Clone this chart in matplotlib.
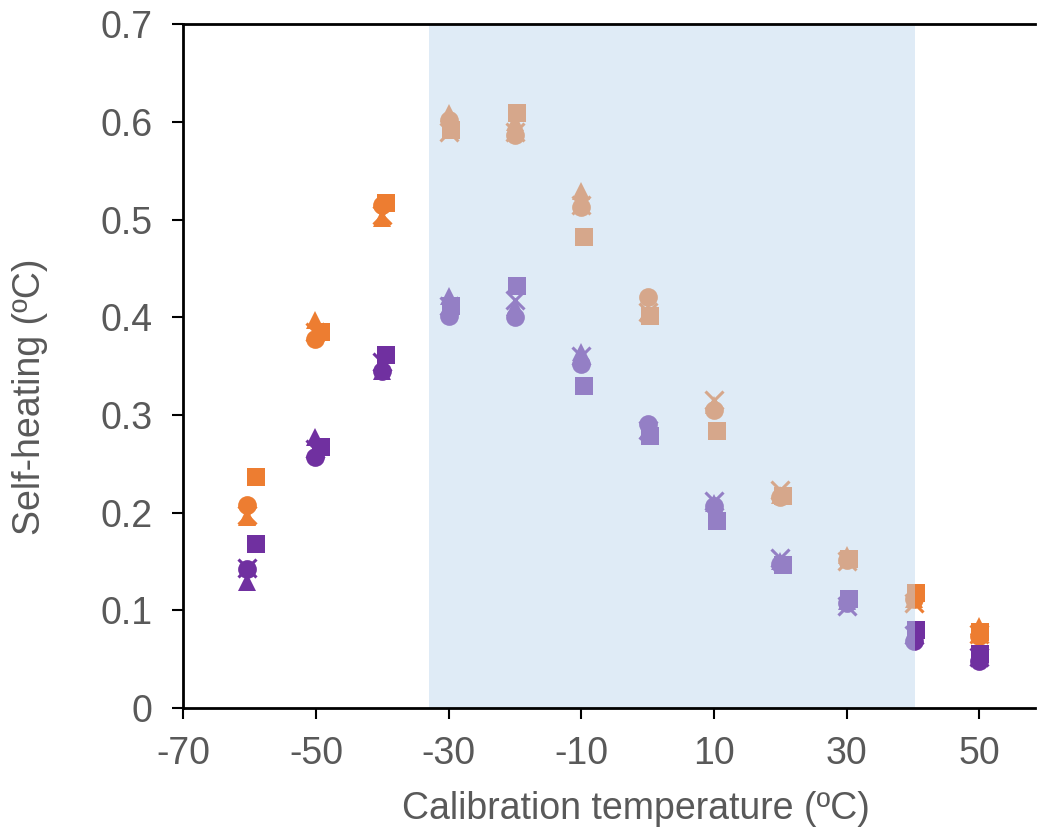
import matplotlib
matplotlib.use("Agg")
import matplotlib.pyplot as plt
from matplotlib.ticker import FuncFormatter

plt.rcParams['font.family'] = ['Liberation Sans', 'DejaVu Sans']
plt.rcParams['axes.unicode_minus'] = False

# ---- data ----
x_main = [-60.4, -50.1, -40.0, -30.0, -20.0, -10.0, 0.0, 10.0, 20.0, 30.0, 40.2, 50.0]
x_square = [-59.1, -49.3, -39.5, -29.6, -19.7, -9.6, 0.4, 10.4, 20.4, 30.4, 40.4, 50.1]

orange_circle = [0.208, 0.378, 0.515, 0.602, 0.587, 0.513, 0.421, 0.305, 0.216, 0.152, 0.112, 0.074]
orange_triangle = [0.196, 0.397, 0.502, 0.609, 0.600, 0.529, 0.405, 0.310, 0.218, 0.157, 0.112, 0.084]
orange_cross = [0.198, 0.385, 0.505, 0.590, 0.590, 0.515, 0.405, 0.315, 0.223, 0.150, 0.108, 0.076]
orange_square = [0.236, 0.385, 0.517, 0.592, 0.609, 0.482, 0.401, 0.284, 0.217, 0.153, 0.118, 0.078]

purple_circle = [0.142, 0.257, 0.345, 0.401, 0.400, 0.352, 0.291, 0.207, 0.147, 0.108, 0.069, 0.048]
purple_triangle = [0.129, 0.277, 0.345, 0.422, 0.410, 0.364, 0.285, 0.210, 0.150, 0.110, 0.075, 0.052]
purple_cross = [0.143, 0.265, 0.354, 0.412, 0.418, 0.360, 0.285, 0.212, 0.154, 0.104, 0.075, 0.052]
purple_square = [0.168, 0.267, 0.361, 0.411, 0.432, 0.330, 0.278, 0.191, 0.146, 0.112, 0.080, 0.055]

x_ticks = [-70, -50, -30, -10, 10, 30, 50]
y_ticks = [0, 0.1, 0.2, 0.3, 0.4, 0.5, 0.6, 0.7]
shade_range = (-32.9, 40.35)

ORANGE = '#ED7D31'
PURPLE = '#7030A0'
TEXT = '#595959'
FS = 27

fig = plt.figure(figsize=(10.37, 8.32), dpi=100)
ax = fig.add_axes([0.1768, 0.149, 0.8212, 0.822])

ms = 13.5
for color, c, t, x, s in [
    (ORANGE, orange_circle, orange_triangle, orange_cross, orange_square),
    (PURPLE, purple_circle, purple_triangle, purple_cross, purple_square),
]:
    ax.plot(x_main, c, 'o', color=color, ms=ms, mew=0, zorder=3)
    ax.plot(x_main, t, '^', color=color, ms=ms, mew=0, zorder=3)
    ax.plot(x_main, x, 'x', color=color, ms=ms, mew=2.2, zorder=3)
    ax.plot(x_square, s, 's', color=color, ms=ms, mew=0, zorder=3)

ax.axvspan(shade_range[0], shade_range[1], ymin=0, ymax=1,
           facecolor='#BDD7EE', alpha=0.48, lw=0, zorder=4)

ax.set_xlim(-70, 58.4)
ax.set_ylim(0, 0.7)
ax.set_xticks(x_ticks)
ax.set_yticks(y_ticks)
ax.yaxis.set_major_formatter(FuncFormatter(lambda v, p: '0' if v == 0 else f'{v:.1f}'))

ax.spines['right'].set_visible(False)
for side in ['left', 'bottom', 'top']:
    ax.spines[side].set_linewidth(2.0)
    ax.spines[side].set_color('black')
    ax.spines[side].set_zorder(5)

ax.tick_params(axis='both', direction='out', length=8, width=1.5, color='black',
               labelsize=FS, labelcolor=TEXT)
ax.tick_params(axis='x', pad=12)
ax.tick_params(axis='y', pad=14)

ax.set_xlabel('Calibration temperature (ºC)', fontsize=FS, color=TEXT)
ax.set_ylabel('Self-heating (ºC)', fontsize=FS, color=TEXT)
ax.xaxis.set_label_coords(0.531, -0.122)
ax.yaxis.set_label_coords(-0.159, 0.455)

fig.savefig('out.png', dpi=100)
